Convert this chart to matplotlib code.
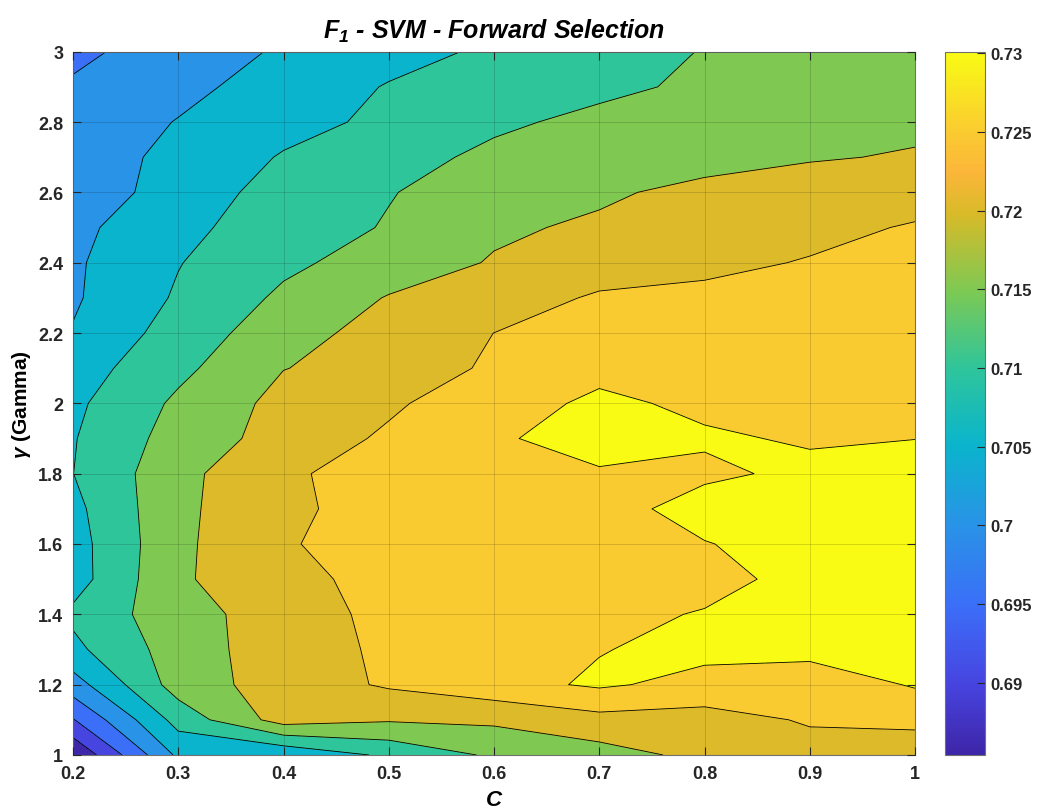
import numpy as np
import matplotlib.pyplot as plt
from matplotlib.colors import LinearSegmentedColormap, Normalize
from matplotlib.cm import ScalarMappable

plt.rcParams['font.family'] = ['Liberation Sans', 'DejaVu Sans']
plt.rcParams['font.weight'] = 'bold'
plt.rcParams['mathtext.fontset'] = 'custom'
plt.rcParams['mathtext.it'] = 'Liberation Sans:italic'
plt.rcParams['mathtext.bfit'] = 'Liberation Sans:italic:bold'
plt.rcParams['mathtext.rm'] = 'Liberation Sans:bold'

# grid of the search
C_vals = [0.2, 0.3, 0.4, 0.5, 0.6, 0.7, 0.8, 0.9, 1.0]
gamma_vals = [1.0, 1.1, 1.2, 1.3, 1.4, 1.5, 1.6, 1.7, 1.8, 1.9, 2.0,
              2.1, 2.2, 2.3, 2.4, 2.5, 2.6, 2.7, 2.8, 2.9, 3.0]

# F1 score, one row per gamma value
f1 = [
    [0.6854, 0.7060, 0.7057, 0.7110, 0.7158, 0.7180, 0.7213, 0.7230, 0.7213],
    [0.6947, 0.7119, 0.7222, 0.7205, 0.7209, 0.7234, 0.7230, 0.7255, 0.7265],
    [0.7028, 0.7173, 0.7224, 0.7256, 0.7283, 0.7307, 0.7284, 0.7273, 0.7304],
    [0.7088, 0.7174, 0.7228, 0.7258, 0.7276, 0.7298, 0.7313, 0.7314, 0.7308],
    [0.7110, 0.7181, 0.7223, 0.7265, 0.7272, 0.7288, 0.7303, 0.7315, 0.7312],
    [0.7078, 0.7194, 0.7231, 0.7271, 0.7275, 0.7280, 0.7285, 0.7315, 0.7314],
    [0.7080, 0.7189, 0.7249, 0.7255, 0.7268, 0.7285, 0.7298, 0.7318, 0.7314],
    [0.7087, 0.7189, 0.7240, 0.7270, 0.7276, 0.7282, 0.7318, 0.7320, 0.7312],
    [0.70995, 0.7185, 0.7245, 0.7264, 0.7275, 0.7296, 0.7292, 0.7309, 0.7307],
    [0.7097, 0.7171, 0.7219, 0.7258, 0.7295, 0.7316, 0.7305, 0.7296, 0.72998],
    [0.7090, 0.7159, 0.7215, 0.7242, 0.7282, 0.7308, 0.7292, 0.7290, 0.7294],
    [0.7076, 0.7138, 0.7199, 0.7216, 0.7259, 0.7289, 0.7286, 0.7285, 0.7286],
    [0.7053, 0.7122, 0.7178, 0.7222, 0.72502, 0.7272, 0.7272, 0.7275, 0.7278],
    [0.7044, 0.7106, 0.7159, 0.7203, 0.7222, 0.7257, 0.7261, 0.7264, 0.7270],
    [0.7043, 0.7098, 0.7140, 0.7172, 0.7204, 0.7221, 0.7239, 0.7253, 0.7262],
    [0.7038, 0.7085, 0.7130, 0.7153, 0.7192, 0.7208, 0.7223, 0.7237, 0.7254],
    [0.7033, 0.7062, 0.7127, 0.7148, 0.7170, 0.7192, 0.7214, 0.7224, 0.7230],
    [0.7026, 0.7062, 0.7104, 0.7133, 0.7160, 0.7169, 0.7181, 0.7196, 0.7204],
    [0.7020, 0.7052, 0.7083, 0.7111, 0.7142, 0.7161, 0.7172, 0.7183, 0.7190],
    [0.7006, 0.7037, 0.7071, 0.7103, 0.7122, 0.7140, 0.7158, 0.7170, 0.7180],
    [0.6989, 0.7024, 0.7056, 0.7083, 0.7108, 0.7130, 0.7152, 0.7162, 0.7170],
]

levels = [0.69, 0.695, 0.70, 0.705, 0.71, 0.715, 0.72, 0.725, 0.73]
clim = (0.6854, 0.7301)

# parula-like colormap
parula = LinearSegmentedColormap.from_list('parula', [
    (0.00, '#3E26A8'), (0.10, '#4744E0'), (0.21, '#3B6EF8'),
    (0.33, '#2894E6'), (0.44, '#0AB4CC'), (0.55, '#2FC59B'),
    (0.66, '#7DC954'), (0.77, '#D8BA28'), (0.83, '#FCB63A'),
    (0.89, '#FACC30'), (1.00, '#F9FB14')])
norm = Normalize(*clim)

# each band gets the colour of its lower level
band_colors = [parula(0.0)] + [parula(norm(l)) for l in levels]

Z = np.array(f1)

fig = plt.figure(figsize=(10.37, 8.12), dpi=100)
ax = fig.add_axes([0.0704, 0.069, 0.812, 0.8661])
cax = fig.add_axes([0.911, 0.069, 0.0386, 0.8661])

ax.contourf(C_vals, gamma_vals, Z, levels=[0.6] + levels + [0.8], colors=band_colors)
ax.contour(C_vals, gamma_vals, Z, levels=levels, colors='k', linewidths=0.6)

ax.set_xlim(0.2, 1.0)
ax.set_ylim(1.0, 3.0)
ax.set_xticks(np.arange(0.2, 1.01, 0.1))
ax.set_xticklabels(['%g' % round(v, 1) for v in np.arange(0.2, 1.01, 0.1)])
ax.set_yticks(np.arange(1.0, 3.01, 0.2))
ax.set_yticklabels(['%g' % round(v, 1) for v in np.arange(1.0, 3.01, 0.2)])
ax.grid(True, color='k', alpha=0.15, linewidth=0.7)
ax.set_axisbelow(False)
ax.tick_params(direction='in', top=True, right=True, length=6, width=0.8,
               colors='#262626', labelsize=13, pad=7)
for s in ax.spines.values():
    s.set_color('#707070')
    s.set_linewidth(0.8)

ax.set_xlabel('C', fontsize=16, fontstyle='italic', fontweight='bold', labelpad=5)
ax.set_ylabel(r'$\gamma$ (Gamma)', fontsize=15, fontweight='bold', labelpad=4)
ax.set_title(r'$\mathbfit{F}_{\mathbfit{1}}$ - SVM - Forward Selection', fontsize=18,
             fontstyle='italic', fontweight='bold', pad=10)

sm = ScalarMappable(norm=norm, cmap=parula)
cb = fig.colorbar(sm, cax=cax, ticks=levels)
cb.ax.set_yticklabels(['%g' % l for l in levels])
cb.ax.tick_params(direction='in', length=6, width=0.8, colors='#262626',
                  labelsize=12, pad=4)
cb.outline.set_edgecolor('#707070')
cb.outline.set_linewidth(0.8)

fig.savefig('out.png', dpi=100)
